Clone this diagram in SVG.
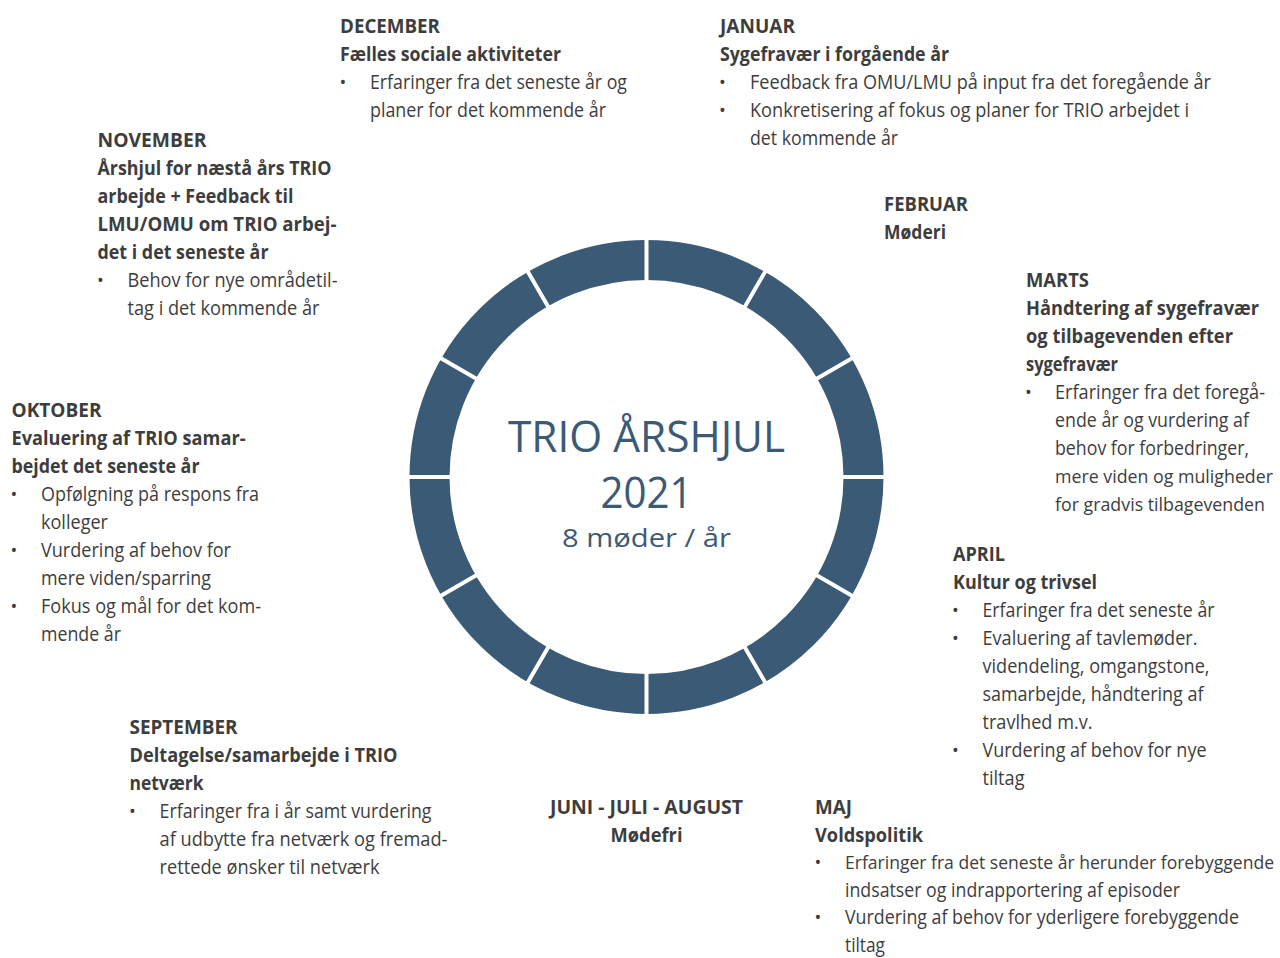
<svg xmlns="http://www.w3.org/2000/svg" width="1280" height="958" viewBox="0 0 1280 958">
<style>
text { font-family: "Open Sans", "Noto Sans", "Liberation Sans", sans-serif; fill: #3d3d3d; }
.h { font-size: 19.5px; font-weight: bold; }
.t { font-size: 19.5px; }
.s { font-size: 17.8px; }
.b { font-size: 18px; text-anchor: middle; }
.c { fill: #3a5a76; text-anchor: middle; }
.ring { fill: none; stroke: #3a5a76; stroke-width: 40; }
.gap { stroke: #ffffff; stroke-width: 4; fill: none; }
</style>
<rect width="1280" height="958" fill="#ffffff"/>

<g id="wheel">
  <circle class="ring" cx="646.5" cy="477" r="217"/>
  <path class="gap" d="M646.5 285 L646.5 232 M742.5 310.7 L769 265 M812.8 381 L858.5 354.5 M838.5 477 L891 477 M812.8 573 L858.5 599.5 M742.5 643.3 L769 689 M646.5 669 L646.5 722 M550.5 643.3 L524 689 M480.2 573 L434.5 599.5 M454.5 477 L402 477 M480.2 381 L434.5 354.5 M550.5 310.7 L524 265"/>
  <text class="c" x="646.5" y="452" font-size="43" textLength="277" lengthAdjust="spacingAndGlyphs">TRIO ÅRSHJUL</text>
  <text class="c" x="646.5" y="508" font-size="43" textLength="92" lengthAdjust="spacingAndGlyphs">2021</text>
  <text class="c" x="646.5" y="547" font-size="26" textLength="169" lengthAdjust="spacingAndGlyphs">8 møder / år</text>
</g>

<g id="december">
  <text class="h" x="340" y="33" textLength="100" lengthAdjust="spacingAndGlyphs">DECEMBER</text>
  <text class="h" x="340" y="61" textLength="221" lengthAdjust="spacingAndGlyphs">Fælles sociale aktiviteter</text>
  <text class="b" x="343" y="89">•</text>
  <text class="t" x="370" y="89" textLength="257" lengthAdjust="spacingAndGlyphs">Erfaringer fra det seneste år og</text>
  <text class="t" x="370" y="117" textLength="236" lengthAdjust="spacingAndGlyphs">planer for det kommende år</text>
</g>

<g id="januar">
  <text class="h" x="720" y="33" textLength="75" lengthAdjust="spacingAndGlyphs">JANUAR</text>
  <text class="h" x="720" y="61" textLength="229" lengthAdjust="spacingAndGlyphs">Sygefravær i forgående år</text>
  <text class="b" x="722.5" y="89">•</text>
  <text class="t" x="750" y="89" textLength="461" lengthAdjust="spacingAndGlyphs">Feedback fra OMU/LMU på input fra det foregående år</text>
  <text class="b" x="722.5" y="117">•</text>
  <text class="t" x="750" y="117" textLength="439" lengthAdjust="spacingAndGlyphs">Konkretisering af fokus og planer for TRIO arbejdet i</text>
  <text class="t" x="750" y="145" textLength="148" lengthAdjust="spacingAndGlyphs">det kommende år</text>
</g>

<g id="februar">
  <text class="h" x="884" y="211" textLength="84" lengthAdjust="spacingAndGlyphs">FEBRUAR</text>
  <text class="h" x="884" y="239" textLength="62" lengthAdjust="spacingAndGlyphs">Møderi</text>
</g>

<g id="marts">
  <text class="h" x="1026" y="287" textLength="63" lengthAdjust="spacingAndGlyphs">MARTS</text>
  <text class="h" x="1026" y="315" textLength="233" lengthAdjust="spacingAndGlyphs">Håndtering af sygefravær</text>
  <text class="h" x="1026" y="343" textLength="207" lengthAdjust="spacingAndGlyphs">og tilbagevenden efter</text>
  <text class="h" x="1026" y="371" textLength="92" lengthAdjust="spacingAndGlyphs">sygefravær</text>
  <text class="b" x="1028.5" y="399">•</text>
  <text class="t" x="1055" y="399" textLength="210" lengthAdjust="spacingAndGlyphs">Erfaringer fra det foregå-</text>
  <text class="t" x="1055" y="427" textLength="194" lengthAdjust="spacingAndGlyphs">ende år og vurdering af</text>
  <text class="t" x="1055" y="455" textLength="194" lengthAdjust="spacingAndGlyphs">behov for forbedringer,</text>
  <text class="s" x="1055" y="483" textLength="218" lengthAdjust="spacingAndGlyphs">mere viden og muligheder</text>
  <text class="s" x="1055" y="511" textLength="210" lengthAdjust="spacingAndGlyphs">for gradvis tilbagevenden</text>
</g>

<g id="april">
  <text class="h" x="953" y="561" textLength="52" lengthAdjust="spacingAndGlyphs">APRIL</text>
  <text class="h" x="953" y="589" textLength="144" lengthAdjust="spacingAndGlyphs">Kultur og trivsel</text>
  <text class="b" x="955.5" y="617">•</text>
  <text class="t" x="982.5" y="617" textLength="232" lengthAdjust="spacingAndGlyphs">Erfaringer fra det seneste år</text>
  <text class="b" x="955.5" y="645">•</text>
  <text class="t" x="982.5" y="645" textLength="215" lengthAdjust="spacingAndGlyphs">Evaluering af tavlemøder.</text>
  <text class="t" x="982.5" y="673" textLength="227" lengthAdjust="spacingAndGlyphs">videndeling, omgangstone,</text>
  <text class="t" x="982.5" y="701" textLength="221" lengthAdjust="spacingAndGlyphs">samarbejde, håndtering af</text>
  <text class="t" x="982.5" y="729" textLength="110" lengthAdjust="spacingAndGlyphs">travlhed m.v.</text>
  <text class="b" x="955.5" y="757">•</text>
  <text class="t" x="982.5" y="757" textLength="224" lengthAdjust="spacingAndGlyphs">Vurdering af behov for nye</text>
  <text class="t" x="982.5" y="785" textLength="42" lengthAdjust="spacingAndGlyphs">tiltag</text>
</g>

<g id="maj">
  <text class="h" x="815" y="814" textLength="37" lengthAdjust="spacingAndGlyphs">MAJ</text>
  <text class="h" x="815" y="841.5" textLength="108" lengthAdjust="spacingAndGlyphs">Voldspolitik</text>
  <text class="b" x="818" y="869">•</text>
  <text class="s" x="845" y="869" font-size="17.5" textLength="429" lengthAdjust="spacingAndGlyphs">Erfaringer fra det seneste år herunder forebyggende</text>
  <text class="t" x="845" y="896.5" textLength="335" lengthAdjust="spacingAndGlyphs">indsatser og indrapportering af episoder</text>
  <text class="b" x="818" y="924">•</text>
  <text class="t" x="845" y="924" textLength="394" lengthAdjust="spacingAndGlyphs">Vurdering af behov for yderligere forebyggende</text>
  <text class="t" x="845" y="951.5" textLength="40" lengthAdjust="spacingAndGlyphs">tiltag</text>
</g>

<g id="juni-juli-august">
  <text class="h" x="646.5" y="814" text-anchor="middle" textLength="193" lengthAdjust="spacingAndGlyphs">JUNI - JULI - AUGUST</text>
  <text class="h" x="646.5" y="841.5" text-anchor="middle" textLength="72" lengthAdjust="spacingAndGlyphs">Mødefri</text>
</g>

<g id="september">
  <text class="h" x="129.5" y="734" textLength="108" lengthAdjust="spacingAndGlyphs">SEPTEMBER</text>
  <text class="h" x="129.5" y="762" textLength="268" lengthAdjust="spacingAndGlyphs">Deltagelse/samarbejde i TRIO</text>
  <text class="h" x="129.5" y="790" textLength="74" lengthAdjust="spacingAndGlyphs">netværk</text>
  <text class="b" x="132.5" y="818">•</text>
  <text class="t" x="159.5" y="818" textLength="272" lengthAdjust="spacingAndGlyphs">Erfaringer fra i år samt vurdering</text>
  <text class="t" x="159.5" y="846" textLength="288" lengthAdjust="spacingAndGlyphs">af udbytte fra netværk og fremad-</text>
  <text class="t" x="159.5" y="874" textLength="220" lengthAdjust="spacingAndGlyphs">rettede ønsker til netværk</text>
</g>

<g id="oktober">
  <text class="h" x="11.5" y="417" textLength="90" lengthAdjust="spacingAndGlyphs">OKTOBER</text>
  <text class="h" x="11.5" y="445" textLength="234" lengthAdjust="spacingAndGlyphs">Evaluering af TRIO samar-</text>
  <text class="h" x="11.5" y="473" textLength="188" lengthAdjust="spacingAndGlyphs">bejdet det seneste år</text>
  <text class="b" x="14" y="501">•</text>
  <text class="t" x="41" y="501" textLength="218" lengthAdjust="spacingAndGlyphs">Opfølgning på respons fra</text>
  <text class="t" x="41" y="529" textLength="67" lengthAdjust="spacingAndGlyphs">kolleger</text>
  <text class="b" x="14" y="557">•</text>
  <text class="t" x="41" y="557" textLength="190" lengthAdjust="spacingAndGlyphs">Vurdering af behov for</text>
  <text class="t" x="41" y="585" textLength="170" lengthAdjust="spacingAndGlyphs">mere viden/sparring</text>
  <text class="b" x="14" y="613">•</text>
  <text class="t" x="41" y="613" textLength="220" lengthAdjust="spacingAndGlyphs">Fokus og mål for det kom-</text>
  <text class="t" x="41" y="641" textLength="80" lengthAdjust="spacingAndGlyphs">mende år</text>
</g>

<g id="november">
  <text class="h" x="97.5" y="147" textLength="109" lengthAdjust="spacingAndGlyphs">NOVEMBER</text>
  <text class="h" x="97.5" y="175" textLength="234" lengthAdjust="spacingAndGlyphs">Årshjul for næstå års TRIO</text>
  <text class="h" x="97.5" y="203" textLength="196" lengthAdjust="spacingAndGlyphs">arbejde + Feedback til</text>
  <text class="h" x="97.5" y="231" textLength="239" lengthAdjust="spacingAndGlyphs">LMU/OMU om TRIO arbej-</text>
  <text class="h" x="97.5" y="259" textLength="171" lengthAdjust="spacingAndGlyphs">det i det seneste år</text>
  <text class="b" x="100.5" y="287">•</text>
  <text class="t" x="127.5" y="287" textLength="210" lengthAdjust="spacingAndGlyphs">Behov for nye områdetil-</text>
  <text class="t" x="127.5" y="315" textLength="192" lengthAdjust="spacingAndGlyphs">tag i det kommende år</text>
</g>
</svg>
